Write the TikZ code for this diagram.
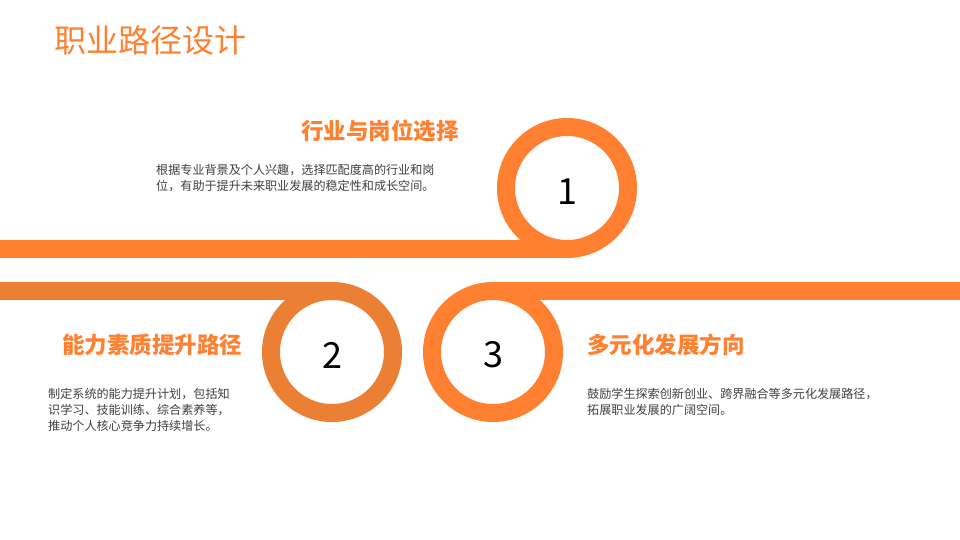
\documentclass[tikz,border=0pt]{standalone}
\usepackage{fontspec}
\setmainfont{Noto Sans CJK SC}
\definecolor{org}{HTML}{FF8030}
\definecolor{orgd}{HTML}{EB7F33}
\definecolor{txt}{HTML}{404040}
\begin{document}
\begin{tikzpicture}[x=1pt,y=-1pt,
  ring/.style={line width=18pt},
  head/.style={text=org,font=\fontsize{22.5}{26}\selectfont\bfseries,inner sep=0pt},
  body/.style={text=txt,font=\fontsize{12.1}{16}\selectfont,inner sep=0pt,align=left},
  num/.style={font=\fontsize{36}{40}\selectfont,inner sep=0pt}]
\useasboundingbox (0,0) rectangle (960,540);
\fill[white] (0,0) rectangle (960,540);
% bars
\fill[org] (0,240) rectangle (567,258);
\fill[orgd] (0,282) rectangle (332,300);
\fill[org] (493,282) rectangle (960,300);
% rings
\draw[ring,org] (567,188) circle[radius=61];
\draw[ring,orgd] (332,352) circle[radius=61];
\draw[ring,org] (493,352) circle[radius=61];
\node[num] (n1) at (567,192) {1};
\node[num] (n2) at (332,355) {2};
\node[num] (n3) at (493,355) {3};
\node[text=org,font=\fontsize{32}{36}\selectfont,anchor=west,inner sep=0pt] (t) at (54,40) {职业路径设计};
\node[head,anchor=east] (h1) at (459,131) {行业与岗位选择};
\node[body,anchor=north west] (b1) at (156,164) {根据专业背景及个人兴趣，选择匹配度高的行业和岗\\位，有助于提升未来职业发展的稳定性和成长空间。};
\node[head,anchor=west] (h2) at (62,345) {能力素质提升路径};
\node[body,anchor=north west] (b2) at (48,388) {制定系统的能力提升计划，包括知\\识学习、技能训练、综合素养等，\\推动个人核心竞争力持续增长。};
\node[head,anchor=west] (h3) at (587,345) {多元化发展方向};
\node[body,anchor=north west] (b3) at (587,388) {鼓励学生探索创新创业、跨界融合等多元化发展路径，\\拓展职业发展的广阔空间。};
\end{tikzpicture}
\end{document}
